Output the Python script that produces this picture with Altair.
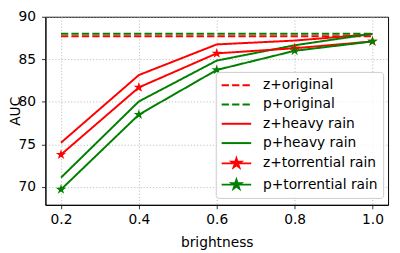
import altair as alt
import pandas as pd

brightness = [0.2, 0.4, 0.6, 0.8, 1.0]
series_names = ["z+original", "p+original", "z+heavy rain", "p+heavy rain",
                "z+torrential rain", "p+torrential rain"]
series_colors = ["#ff0000", "#008000", "#ff0000", "#008000", "#ff0000", "#008000"]

z_original = [87.7, 87.7]
p_original = [88.0, 88.0]
original_x = [0.2, 1.0]
z_heavy = [75.2, 83.15, 86.75, 87.2, 87.95]
p_heavy = [71.1, 80.05, 84.85, 86.65, 88.0]
z_torrential = [73.8, 81.7, 85.7, 86.3, 87.1]
p_torrential = [69.7, 78.5, 83.75, 86.0, 87.1]

rows = []
for v, x in zip(z_original, original_x):
    rows.append({"brightness": x, "AUC": v, "series": "z+original"})
for v, x in zip(p_original, original_x):
    rows.append({"brightness": x, "AUC": v, "series": "p+original"})
for name, vals in [("z+heavy rain", z_heavy), ("p+heavy rain", p_heavy),
                   ("z+torrential rain", z_torrential), ("p+torrential rain", p_torrential)]:
    for x, v in zip(brightness, vals):
        rows.append({"brightness": x, "AUC": v, "series": name})
df = pd.DataFrame(rows)
legend_df = pd.DataFrame({"series": series_names})

STAR = ("M0,-1L0.2245,-0.309L0.951,-0.309L0.363,0.118L0.588,0.809L0,0.382"
        "L-0.588,0.809L-0.363,0.118L-0.951,-0.309L-0.2245,-0.309Z")
# legend glyphs: unit = half of the nominal symbol width, drawn wider to the right
SMALL_STAR = ("M1,-0.667L1.15,-0.206L1.634,-0.206L1.242,0.079L1.392,0.539L1,0.255"
              "L0.608,0.539L0.758,0.079L0.366,-0.206L0.85,-0.206Z")
DASHED = "M-1,0L-0.013,0M0.413,0L1.4,0M1.827,0L2.813,0"
SOLID = "M-1,0L3,0"
legend_shapes = [DASHED, DASHED, SOLID, SOLID, SOLID + SMALL_STAR, SOLID + SMALL_STAR]
dashes = [[7.4, 3.2], [7.4, 3.2], [1, 0], [1, 0], [1, 0], [1, 0]]

# data layers use the series list in reverse order so their (hidden) guides
# do not merge with the visible legend
rev_names = series_names[::-1]
rev_colors = series_colors[::-1]
rev_dashes = dashes[::-1]

W, H = 348, 191
xs = alt.Scale(domain=[0.16, 1.04], nice=False, zero=False)
ys = alt.Scale(domain=[67.9, 90], nice=False, zero=False)
color_scale = alt.Scale(domain=rev_names, range=rev_colors)

x_enc = alt.X("brightness:Q", scale=xs,
              axis=alt.Axis(values=brightness, format=".1f", title="brightness",
                            labelPadding=4, titlePadding=9))
y_enc = alt.Y("AUC:Q", scale=ys,
              axis=alt.Axis(values=[70, 75, 80, 85, 90], title="AUC",
                            labelPadding=6, titleX=-26, titleBaseline="alphabetic",
                            titleAngle=270, titleAlign="center"))

base = alt.Chart(df)

lines = base.mark_line(strokeWidth=2).encode(
    x=x_enc, y=y_enc,
    color=alt.Color("series:N", scale=color_scale, legend=None),
    strokeDash=alt.StrokeDash("series:N", scale=alt.Scale(domain=rev_names, range=rev_dashes), legend=None),
    order=alt.Order("brightness:Q"),
)

stars = base.transform_filter(
    alt.FieldOneOfPredicate(field="series", oneOf=["z+torrential rain", "p+torrential rain"])
).mark_point(filled=True, size=120, opacity=1, strokeWidth=1).encode(
    x=x_enc, y=y_enc,
    shape=alt.value(STAR),
    color=alt.Color("series:N", scale=color_scale, legend=None),
)

leg = alt.Legend(title=None, orient="none", legendX=173, legendY=56,
                 symbolSize=225, symbolStrokeWidth=2, labelFontSize=14,
                 labelOffset=26, rowPadding=3.6, padding=5,
                 strokeColor="#cccccc", fillColor="rgba(255,255,255,0.8)",
                 cornerRadius=3, labelLimit=300, symbolOpacity=1)

legend_layer = alt.Chart(legend_df).transform_filter("false").mark_point(
    filled=True, size=225, opacity=1, strokeWidth=2
).encode(
    fill=alt.Fill("series:N", scale=alt.Scale(domain=series_names, range=series_colors), legend=leg),
    stroke=alt.Stroke("series:N", scale=alt.Scale(domain=series_names, range=series_colors), legend=leg),
    shape=alt.Shape("series:N", scale=alt.Scale(domain=series_names, range=legend_shapes), legend=leg),
)

chart = alt.layer(lines, stars, legend_layer).properties(
    width=W, height=H,
    autosize=alt.AutoSizeParams(type="none"),
    padding={"left": 38, "top": 7, "right": 4, "bottom": 45},
).configure_view(
    stroke="black", strokeWidth=1
).configure_axis(
    labelFont="DejaVu Sans", labelFontSize=14, labelColor="black",
    titleFont="DejaVu Sans", titleFontSize=14, titleFontWeight="normal", titleColor="black",
    domainColor="black", domainWidth=1, tickColor="black", tickSize=4, tickWidth=0.8,
    grid=True, gridColor="#b0b0b0", gridDash=[1.2, 2], gridWidth=0.8,
).configure_legend(
    labelFont="DejaVu Sans", labelColor="black"
)

chart.save("out.html", embed_options={"renderer": "svg", "actions": False})
